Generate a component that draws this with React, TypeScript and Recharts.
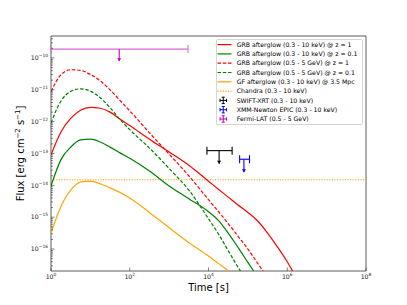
import React from "react";
import {
  ComposedChart,
  Line,
  Scatter,
  ErrorBar,
  XAxis,
  YAxis,
  ReferenceArea,
  Legend,
} from "recharts";

// log10(time) grid shared by the model curves
const LOG_T = [0, 0.25, 0.5, 0.75, 1, 1.25, 1.5, 1.75, 2, 2.5, 3, 3.5, 4, 4.25, 4.5, 4.75, 5, 5.25, 5.5, 5.75, 6, 6.25];

// log10(flux)
const GRB_KEV_Z1 = [-13.04, -12.33, -11.9, -11.64, -11.55, -11.58, -11.7, -11.92, -12.12, -12.55, -12.95, -13.37, -13.87, -14.12, -14.37, -14.62, -14.85, -15.12, -15.5, -15.93, -16.4, -16.95];
const GRB_KEV_Z01 = [-14.02, -13.2, -12.8, -12.57, -12.55, -12.64, -12.8, -12.98, -13.15, -13.55, -14.02, -14.42, -14.83, -15.1, -15.5, -15.95, -16.42, -16.88];
const GRB_GEV_Z1 = [-11.05, -10.53, -10.37, -10.39, -10.52, -10.72, -11.0, -11.33, -11.66, -12.35, -13.02, -13.7, -14.45, -14.82, -15.2, -15.6, -16.0, -16.45, -16.9];
const GRB_GEV_Z01 = [-12.04, -11.36, -11.05, -10.97, -11.04, -11.25, -11.56, -11.93, -12.25, -12.83, -13.47, -14.15, -15.05, -15.52, -16.05, -16.57, -17.05];
const GF_KEV = [-15.5, -14.67, -14.15, -13.9, -13.87, -13.95, -14.08, -14.22, -14.4, -14.85, -15.33, -15.8, -16.22, -16.45, -16.68, -16.92];

const CHANDRA_T = [1, 1e8];
const CHANDRA_FLUX = 1.5e-14;

// upper limits: time, time range, flux, arrow tip
const LIM_NAMES = ["SWIFT-XRT (0.3 - 10 keV)", "XMM-Newton EPIC (0.3 - 10 keV)", "Fermi-LAT (0.5 - 5 GeV)"];
const LIM_T = [18600, 79400, 54];
const LIM_T_LO = [9120, 61700, 1];
const LIM_T_HI = [39800, 110000, 3020];
const LIM_FLUX = [1.23e-13, 6.6e-14, 1.9e-10];
const LIM_TIP = [4.8e-14, 2.6e-14, 7.9e-11];
const LIM_COLORS = ["#000000", "#0000ff", "#bf00bf"];
const LIM_BAR_COLORS = ["#000000", "#0000ff", "#d966d9"];

const X_TICKS = [1, 1e2, 1e4, 1e6, 1e8];
const Y_MIN = Math.pow(10, -16.69);
const Y_MAX = Math.pow(10, -9.31);

const FONT = "DejaVu Sans";
const DOTTED = "1.2 1.4";

const curve = (vals: number[]) =>
  vals.map((v, i) => ({ t: Math.pow(10, LOG_T[i]), f: Math.pow(10, v) }));

const SERIES = [
  { name: "GRB afterglow (0.3 - 10 keV) @ z = 1", vals: GRB_KEV_Z1, color: "#ff0000", dash: undefined },
  { name: "GRB afterglow (0.3 - 10 keV) @ z = 0.1", vals: GRB_KEV_Z01, color: "#008000", dash: undefined },
  { name: "GRB afterglow (0.5 - 5 GeV) @ z = 1", vals: GRB_GEV_Z1, color: "#ff0000", dash: "3.5 1.8" },
  { name: "GRB afterglow (0.5 - 5 GeV) @ z = 0.1", vals: GRB_GEV_Z01, color: "#008000", dash: "3.5 1.8" },
  { name: "GF afterglow (0.3 - 10 keV) @ 3.5 Mpc", vals: GF_KEV, color: "#ffa500", dash: undefined },
];

const yTicks: number[] = [];
for (let k = -17; k <= -10; k++) {
  for (let m = 1; m <= 9; m++) {
    const v = m * Math.pow(10, k);
    if (v >= Y_MIN && v <= Y_MAX) yTicks.push(v);
  }
}

const isMajor = (v: number) => {
  const l = Math.log10(v);
  return Math.abs(l - Math.round(l)) < 1e-6;
};

const expLabel = (e: number) => (e < 0 ? "\u2212" + Math.abs(e) : String(e));

function YTick(props: any) {
  const { x, y, payload } = props;
  const major = isMajor(payload.value);
  const e = Math.round(Math.log10(payload.value));
  return (
    <g>
      <line x1={x} x2={x + (major ? 3.5 : 2)} y1={y} y2={y} stroke="#333" strokeWidth={0.6} />
      {major && (
        <text x={x - 3} y={y + 2.2} textAnchor="end" fontSize={6.2} fill="#222" fontFamily={FONT}>
          10
          <tspan dy={-3} fontSize={4.4}>{expLabel(e)}</tspan>
        </text>
      )}
    </g>
  );
}

function XTick(props: any) {
  const { x, y, payload } = props;
  const e = Math.round(Math.log10(payload.value));
  return (
    <g>
      <line x1={x} x2={x} y1={y} y2={y - 3.5} stroke="#333" strokeWidth={0.6} />
      <text x={x} y={y + 7.6} textAnchor="middle" fontSize={6.2} fill="#222" fontFamily={FONT}>
        10
        <tspan dy={-3} fontSize={4.4}>{expLabel(e)}</tspan>
      </text>
    </g>
  );
}

function XTitle(props: any) {
  const { viewBox } = props;
  return (
    <text x={viewBox.x + viewBox.width / 2} y={viewBox.y + 19.5} textAnchor="middle" fontSize={10} fontFamily={FONT} fill="#000">
      Time [s]
    </text>
  );
}

function YTitle(props: any) {
  const { viewBox } = props;
  const cx = viewBox.x + 24;
  const cy = viewBox.y + viewBox.height / 2;
  return (
    <text x={cx} y={cy} transform={`rotate(-90 ${cx} ${cy})`} textAnchor="middle" fontSize={10} fontFamily={FONT} fill="#000">
      Flux [erg cm
      <tspan dy={-4} fontSize={7}>{"\u22122"}</tspan>
      <tspan dy={4}> s</tspan>
      <tspan dy={-4} fontSize={7}>{"\u22121"}</tspan>
      <tspan dy={4}>]</tspan>
    </text>
  );
}

function LegendBox() {
  const rowH = 9.3;
  const rows = [
    ...SERIES.map((s) => ({ name: s.name, kind: "line", color: s.color, dash: s.dash })),
    { name: "Chandra (0.3 - 10 keV)", kind: "line", color: "#ffa500", dash: DOTTED },
    ...LIM_NAMES.map((n, i) => ({ name: n, kind: "err", color: LIM_COLORS[i], dash: undefined })),
  ];
  return (
    <svg width={147} height={86} style={{ display: "block" }}>
      <rect x={0.5} y={0.5} width={146} height={85} rx={1.5} fill="#fff" fillOpacity={0.8} stroke="#ccc" strokeWidth={0.8} />
      {rows.map((r, i) => {
        const cy = 5.6 + i * rowH;
        return (
          <g key={r.name}>
            {r.kind === "line" ? (
              <line x1={1.5} x2={15.5} y1={cy} y2={cy} stroke={r.color} strokeWidth={r.dash === DOTTED ? 1.1 : 1.2} strokeDasharray={r.dash} />
            ) : (
              <g stroke={r.color} strokeWidth={1}>
                <line x1={4} x2={10.5} y1={cy} y2={cy} />
                <line x1={4} x2={4} y1={cy - 1.6} y2={cy + 1.6} />
                <line x1={10.5} x2={10.5} y1={cy - 1.6} y2={cy + 1.6} />
                <line x1={7.25} x2={7.25} y1={cy - 3.2} y2={cy + 3.2} />
                <line x1={5.7} x2={8.8} y1={cy - 3.2} y2={cy - 3.2} />
                <line x1={5.7} x2={8.8} y1={cy + 3.2} y2={cy + 3.2} />
              </g>
            )}
            <text x={20.7} y={cy + 2.2} fontSize={6.2} fontFamily={FONT} fill="#000">
              {r.name}
            </text>
          </g>
        );
      })}
    </svg>
  );
}

const NoDot = () => <g />;

function ArrowHead(props: any) {
  const { cx, cy, fill } = props;
  return <path d={`M${cx - 2} ${cy - 3} L${cx + 2} ${cy - 3} L${cx} ${cy} Z`} fill={fill} />;
}

export default function App() {
  const chandra = CHANDRA_T.map((t) => ({ t, f: CHANDRA_FLUX }));

  return (
    <div style={{ position: "absolute", left: 0, top: 0, background: "#fff" }}>
      <ComposedChart width={407} height={305} margin={{ top: 36, right: 41, bottom: 0, left: 0 }}>
        <XAxis
          dataKey="t"
          type="number"
          scale="log"
          domain={[1, 1e8]}
          allowDataOverflow
          ticks={X_TICKS}
          interval={0}
          tickSize={0}
          tickMargin={0}
          tickLine={false}
          axisLine={false}
          tick={<XTick />}
          height={34}
          label={<XTitle />}
        />
        <YAxis
          dataKey="f"
          type="number"
          scale="log"
          domain={[Y_MIN, Y_MAX]}
          allowDataOverflow
          ticks={yTicks}
          interval={0}
          tickSize={0}
          tickMargin={0}
          tickLine={false}
          axisLine={false}
          tick={<YTick />}
          width={51}
          label={<YTitle />}
        />

        <Line
          data={chandra}
          dataKey="f"
          stroke="#ffa500"
          strokeWidth={1.1}
          strokeDasharray={DOTTED}
          dot={false}
          isAnimationActive={false}
        />

        {SERIES.map((s) => (
          <Line
            key={s.name}
            data={curve(s.vals)}
            dataKey="f"
            name={s.name}
            type="monotone"
            stroke={s.color}
            strokeWidth={1.2}
            strokeDasharray={s.dash}
            dot={false}
            isAnimationActive={false}
          />
        ))}

        {LIM_NAMES.map((n, i) => (
          <Scatter
            key={n}
            name={n}
            data={[
              {
                t: LIM_T[i],
                f: LIM_FLUX[i],
                xErr: [LIM_T[i] - LIM_T_LO[i], LIM_T_HI[i] - LIM_T[i]],
                yErr: [LIM_FLUX[i] - LIM_TIP[i], 0],
              },
            ]}
            dataKey="f"
            shape={NoDot}
            isAnimationActive={false}
          >
            <ErrorBar dataKey="xErr" direction="x" width={4} stroke={LIM_BAR_COLORS[i]} strokeWidth={1.1} isAnimationActive={false} />
            <ErrorBar dataKey="yErr" direction="y" width={0} stroke={LIM_COLORS[i]} strokeWidth={1.1} isAnimationActive={false} />
          </Scatter>
        ))}

        {LIM_NAMES.map((n, i) => (
          <Scatter
            key={n + "-tip"}
            data={[{ t: LIM_T[i], f: LIM_TIP[i] }]}
            dataKey="f"
            fill={LIM_COLORS[i]}
            shape={ArrowHead}
            isAnimationActive={false}
          />
        ))}

        <ReferenceArea x1={1} x2={1e8} y1={Y_MIN} y2={Y_MAX} ifOverflow="visible" fill="none" stroke="#333" strokeWidth={0.8} />

        <Legend
          layout="vertical"
          align="center"
          verticalAlign="middle"
          content={<LegendBox />}
          wrapperStyle={{ left: 216, top: 39, width: 147, height: 86 }}
        />
      </ComposedChart>
    </div>
  );
}
